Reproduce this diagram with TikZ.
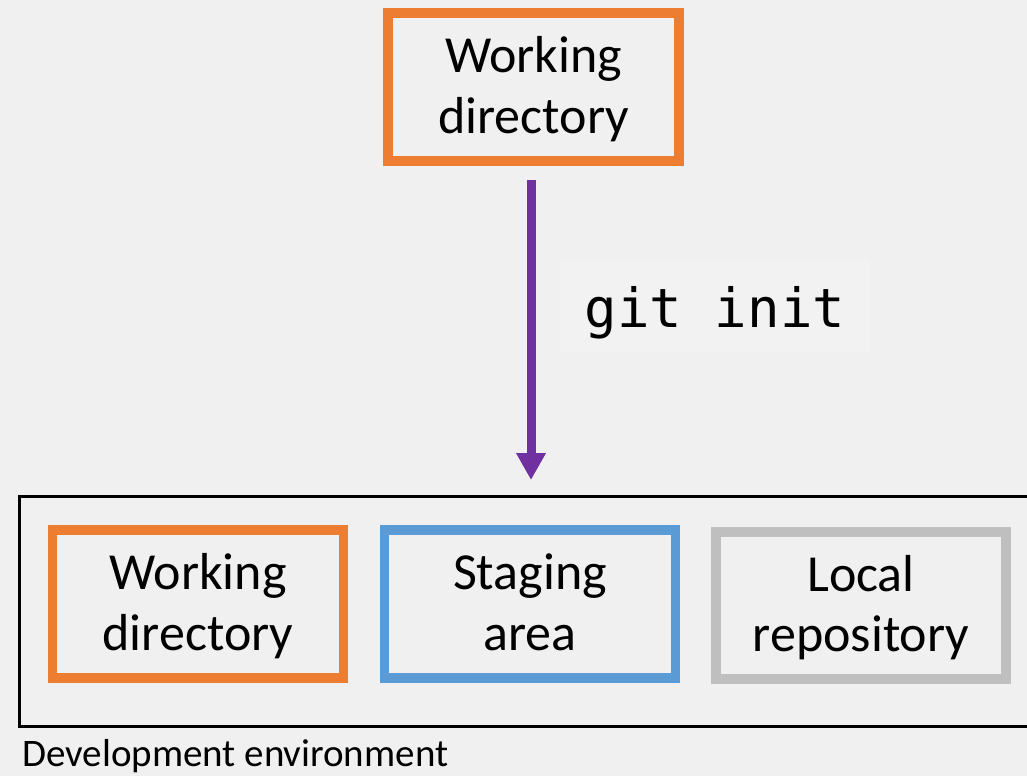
\documentclass[tikz,border=0pt]{standalone}
\usepackage{fontspec}
\setmainfont{Carlito}
\newfontfamily\gitmono{DejaVu Sans Mono}
\usetikzlibrary{arrows.meta,calc}
\definecolor{bgc}{HTML}{F0F0F0}
\definecolor{orangec}{HTML}{ED7D31}
\definecolor{bluec}{HTML}{5B9BD5}
\definecolor{grayc}{HTML}{BFBFBF}
\definecolor{purplec}{HTML}{7030A0}
\definecolor{labelbg}{HTML}{F2F2F2}
\tikzset{
  areabox/.style={draw, line width=9.5pt, inner sep=0pt, minimum width=291pt, minimum height=148pt},
  boxtext/.style={anchor=base, inner sep=0pt, font=\fontsize{52}{62}\selectfont},
  flowarrow/.style={draw=purplec, line width=9pt, -{Triangle[width=28pt,length=27pt]}},
}
\begin{document}
\begin{tikzpicture}[x=1pt,y=-1pt]
\fill[bgc] (0,0) rectangle (1027,776);
\useasboundingbox (0,0) rectangle (1027,776);
% top working directory
\node[areabox, draw=orangec] (wdtop) at (533.5,87) {};
\node[boxtext] (wdtopA) at ($(wdtop.center)+(0,-15)$) {Working};
\node[boxtext] (wdtopB) at ($(wdtop.center)+(0,46)$) {directory};
% development environment
\node[draw=black, line width=3pt, inner sep=0pt, minimum width=1021pt, minimum height=230pt] (env) at (529.5,611) {};
\node[anchor=base west, inner sep=0pt, font=\fontsize{39}{46}\selectfont] (envlabel) at (22,766) {Development environment};
% three areas
\node[areabox, draw=orangec] (wd) at (198,604) {};
\node[boxtext] (wdA) at ($(wd.center)+(0,-15)$) {Working};
\node[boxtext] (wdB) at ($(wd.center)+(0,46)$) {directory};
\node[areabox, draw=bluec] (stg) at (530,604) {};
\node[boxtext] (stgA) at ($(stg.center)+(0,-15)$) {Staging};
\node[boxtext] (stgB) at ($(stg.center)+(0,46)$) {area};
\node[areabox, draw=grayc, minimum width=290pt, minimum height=147pt] (repo) at (861,605.5) {};
\node[boxtext] (repoA) at ($(repo.center)+(0,-14)$) {Local};
\node[boxtext] (repoB) at ($(repo.center)+(0,46)$) {repository};
% git init label
\node[fill=labelbg, inner sep=0pt, minimum width=310pt, minimum height=93pt, text height=47pt, text depth=6pt, font=\gitmono\fontsize{54}{60}\selectfont] (cmd) at (715,306.5) {git init};
% arrow
\coordinate (astart) at ($(wdtop.south)+(-2.5,0)$);
\draw[flowarrow, shorten <=14pt, shorten >=14.5pt] (astart) -- (astart |- env.north);
\end{tikzpicture}
\end{document}
